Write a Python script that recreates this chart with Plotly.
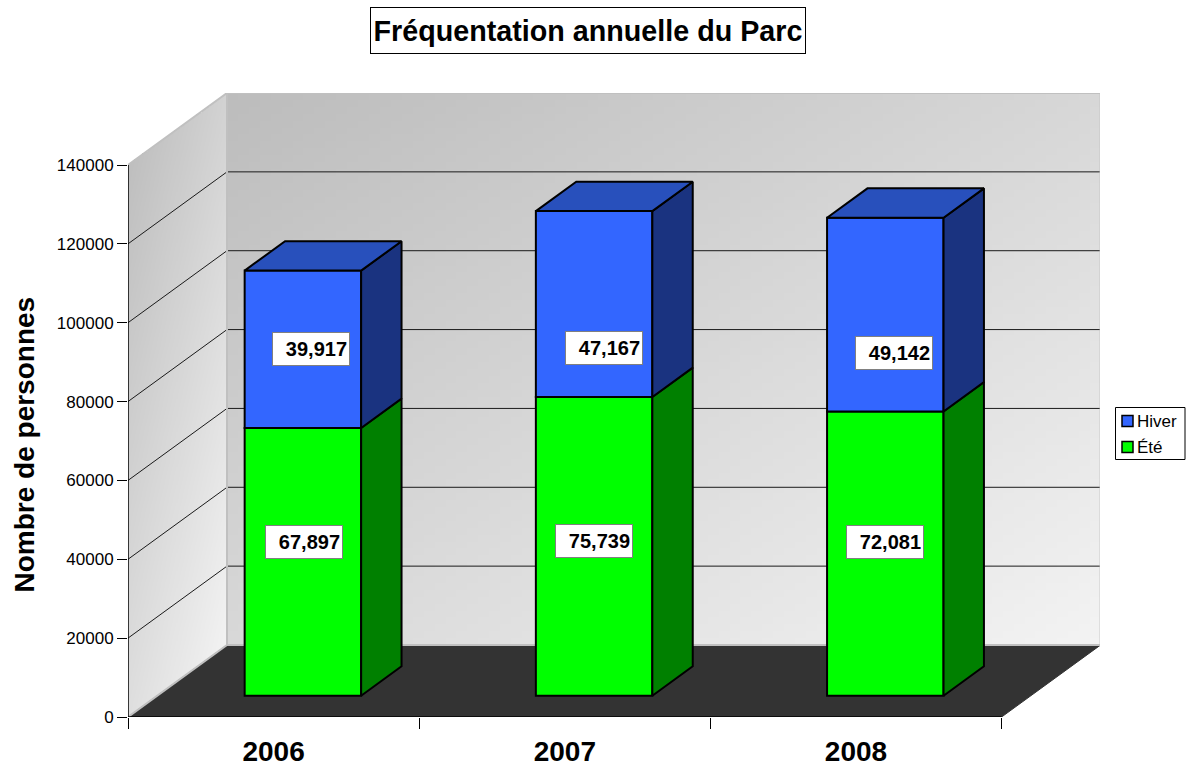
import plotly.graph_objects as go

# ---- data ----
years = ["2006", "2007", "2008"]
ete = [67897, 75739, 72081]
hiver = [39917, 47167, 49142]
y_ticks = [0, 20000, 40000, 60000, 80000, 100000, 120000, 140000]

# ---- pseudo-3D projection, in axis units ----
W, H = 1190, 767
L, R, T, B = 128, 1100, 93, 717
CAT_PX = 291.2
VAL_PX = 552.0 / 140000
DX = 99.0 / CAT_PX
DY = 72.0 / VAL_PX
XMAX = (R - L) / CAT_PX
YMAX = (B - T) / VAL_PX
VMAX = y_ticks[-1]
NCAT = len(years)
D0, D1 = 0.296, 0.704      # bar depth span
BAR_W = 0.4


def proj(x, v, d):
    return x + d * DX, v + d * DY


def poly(pts):
    xs = [p[0] for p in pts] + [pts[0][0]]
    ys = [p[1] for p in pts] + [pts[0][1]]
    return xs, ys


def gray(u, v, a, b, c):
    return a + b * u + c * v


def px(x):
    return (x - L) / (R - L)


def py(y):
    return (B - y) / (B - T)


fig = go.Figure()

# back wall
n = 80
bx = [DX + NCAT * i / n for i in range(n + 1)]
by = [DY + VMAX * j / n for j in range(n + 1)]
bz = [[gray((i + .5) / n, (j + .5) / n, 216, 27, -28) for i in range(n)] for j in range(n)]
scale = [[0, "rgb(0,0,0)"], [1, "rgb(255,255,255)"]]
fig.add_trace(go.Heatmap(x=bx, y=by, z=bz, zmin=0, zmax=255, colorscale=scale,
                         showscale=False, hoverinfo="skip", xaxis="x", yaxis="y"))

# side wall
nx, ny = 98, 320
sx = [DX * i / nx for i in range(nx + 1)]
sy = [(VMAX + DY) * j / ny for j in range(ny + 1)]
sz = []
for j in range(ny):
    row = []
    vv = (j + .5) / ny * (VMAX + DY)
    for i in range(nx):
        u = (i + .5) / nx
        low = u * DY
        row.append(gray(u, (vv - low) / VMAX, 222, 20, -32) if low <= vv <= low + VMAX else None)
    sz.append(row)
fig.add_trace(go.Heatmap(x=sx, y=sy, z=sz, zmin=0, zmax=255, colorscale=scale,
                         showscale=False, hoverinfo="skip", hoverongaps=False, xaxis="x", yaxis="y"))


def line(xs, ys, color, width, layer="x"):
    fig.add_trace(go.Scatter(x=xs, y=ys, mode="lines", line=dict(color=color, width=width),
                             showlegend=False, hoverinfo="skip", cliponaxis=False,
                             xaxis=layer, yaxis=layer.replace("x", "y")))


# floor
fx, fy = poly([proj(0, 0, 0), proj(NCAT, 0, 0), proj(NCAT, 0, 1), proj(0, 0, 1)])
fig.add_trace(go.Scatter(x=fx, y=fy, mode="lines", fill="toself", fillcolor="#333333",
                         line=dict(color="#333333", width=1), showlegend=False,
                         hoverinfo="skip", cliponaxis=False, xaxis="x", yaxis="y"))

# gridlines
gx, gy = [], []
for v in y_ticks[1:-1]:
    a, b, c = proj(0, v, 0), proj(0, v, 1), proj(NCAT, v, 1)
    gx += [a[0], b[0], c[0], None]
    gy += [a[1], b[1], c[1], None]
line(gx, gy, "#1a1a1a", 1)

# wall edges
ex, ey = [], []
for seq in ([proj(0, 0, 0), proj(0, 0, 1), proj(NCAT, 0, 1), proj(NCAT, VMAX, 1), proj(0, VMAX, 1), proj(0, VMAX, 0)],
            [proj(0, 0, 1), proj(0, VMAX, 1)]):
    ex += [p[0] for p in seq] + [None]
    ey += [p[1] for p in seq] + [None]
line(ex, ey, "#c0c0c0", 2)

# axis lines
line([0, 0, NCAT], [VMAX, 0, 0], "#000000", 1.5)

# bars: front faces through real bar traces
centers = [i + 0.5 for i in range(NCAT)]
xc = [proj(c, 0, D0)[0] for c in centers]
base0 = D0 * DY
fig.add_trace(go.Bar(x=xc, y=ete, base=[base0] * NCAT, width=BAR_W, name="Été",
                     marker=dict(color="#00ff00", line=dict(color="#000000", width=2)),
                     xaxis="x2", yaxis="y2", hoverinfo="skip", showlegend=False))
fig.add_trace(go.Bar(x=xc, y=hiver, base=[base0 + e for e in ete], width=BAR_W, name="Hiver",
                     marker=dict(color="#3366ff", line=dict(color="#000000", width=2)),
                     xaxis="x2", yaxis="y2", hoverinfo="skip", showlegend=False))


def face(pts, color):
    xs, ys = poly(pts)
    fig.add_trace(go.Scatter(x=xs, y=ys, mode="lines", fill="toself", fillcolor=color,
                             line=dict(color="#000000", width=2), showlegend=False,
                             hoverinfo="skip", cliponaxis=False, xaxis="x2", yaxis="y2"))


for c, e, h in zip(centers, ete, hiver):
    x0, x1 = c - BAR_W / 2, c + BAR_W / 2
    top = e + h
    face([proj(x1, 0, D0), proj(x1, 0, D1), proj(x1, e, D1), proj(x1, e, D0)], "#008000")
    face([proj(x1, e, D0), proj(x1, e, D1), proj(x1, top, D1), proj(x1, top, D0)], "#1a3380")
    face([proj(x0, top, D0), proj(x1, top, D0), proj(x1, top, D1), proj(x0, top, D1)], "#2850bc")

# value labels: anchored on the middle of each segment, nudged as in the picture
label_font = dict(family="Liberation Sans", size=20, color="#000000")
ete_shift = [(1, 20), (0, 5), (0, 12)]
hiver_shift = [(8, 0), (10, -44), (9, -38)]
annotations = []
for i in range(NCAT):
    xa = proj(centers[i], 0, D0)[0]
    segs = [(ete[i], base0 + ete[i] / 2, ete_shift[i]),
            (hiver[i], base0 + ete[i] + hiver[i] / 2, hiver_shift[i])]
    for val, yv, (sx_, sy_) in segs:
        annotations.append(dict(x=xa, y=yv, xref="x", yref="y", text=f"<b>{val:,}</b>",
                                showarrow=False, font=label_font, width=72, height=28,
                                align="right", valign="middle", bgcolor="#ffffff",
                                bordercolor="#808080", borderwidth=1, borderpad=2,
                                xshift=sx_, yshift=sy_))

# chart title and value-axis title
annotations.append(dict(x=px(588), y=py(30.5), xref="paper", yref="paper", xanchor="center", yanchor="middle",
                        text="<b>Fréquentation annuelle du Parc</b>", showarrow=False,
                        font=dict(family="Liberation Sans", size=28.7, color="#000000"),
                        width=434, height=45, bgcolor="#ffffff", bordercolor="#000000",
                        borderwidth=1, borderpad=0))
annotations.append(dict(x=px(24), y=py(444.5), xref="paper", yref="paper", xanchor="center", yanchor="middle",
                        text="<b>Nombre de personnes</b>", showarrow=False, textangle=-90,
                        font=dict(family="Liberation Sans", size=28, color="#000000")))

# legend box: swatches and entries
shapes = [dict(type="rect", xref="paper", yref="paper", x0=px(1115.5), x1=px(1185), y0=py(407.5), y1=py(459.5),
               line=dict(color="#000000", width=1), fillcolor="#ffffff")]
for name, color, yc in (("Hiver", "#3366ff", 421), ("Été", "#00ff00", 447)):
    shapes.append(dict(type="rect", xref="paper", yref="paper", x0=px(1122), x1=px(1133), y0=py(yc + 5.5), y1=py(yc - 5.5),
                       line=dict(color="#000000", width=1.5), fillcolor=color))
    annotations.append(dict(x=px(1135), y=py(yc), xref="paper", yref="paper", xanchor="left", yanchor="middle",
                            text=name, showarrow=False,
                            font=dict(family="Liberation Sans", size=17, color="#000000")))

fig.update_layout(
    width=W, height=H, margin=dict(l=L, r=W - R, t=T, b=H - B, autoexpand=False),
    paper_bgcolor="#ffffff", plot_bgcolor="#ffffff", barmode="overlay", hovermode=False,
    font=dict(family="Liberation Sans", color="#000000"),
    annotations=annotations, shapes=shapes, showlegend=False,
    xaxis=dict(range=[0, XMAX], showgrid=False, zeroline=False, showline=False,
               tickmode="array", tickvals=centers, ticktext=years, ticks="", ticklabelstandoff=15,
               tickfont=dict(size=28, family="Liberation Sans", weight="bold"),
               minor=dict(tickmode="array", tickvals=list(range(NCAT + 1)), ticks="outside",
                          ticklen=11, tickwidth=1, tickcolor="#000000", showgrid=False)),
    yaxis=dict(range=[0, YMAX], showgrid=False, zeroline=False, showline=False,
               tickmode="array", tickvals=y_ticks, ticktext=[str(v) for v in y_ticks],
               ticks="outside", ticklen=10, tickwidth=1, tickcolor="#000000",
               tickfont=dict(size=17)),
    xaxis2=dict(overlaying="x", range=[0, XMAX], visible=False, anchor="y2"),
    yaxis2=dict(overlaying="y", range=[0, YMAX], visible=False, anchor="x2"),
)

fig.write_html("out.html", config={"displayModeBar": False},
               post_script="document.body.style.margin='0';")
